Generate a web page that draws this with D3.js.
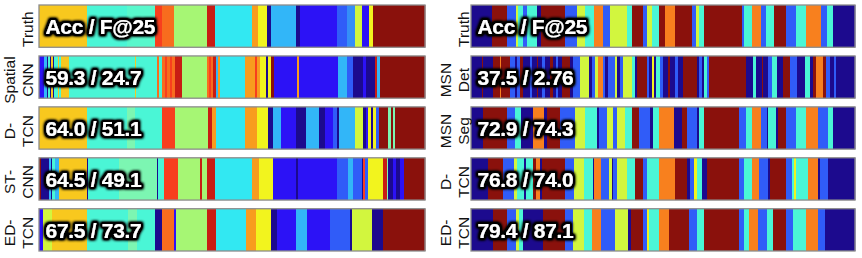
<!DOCTYPE html>
<html><head><meta charset="utf-8">
<script src="https://cdn.jsdelivr.net/npm/d3@7/dist/d3.min.js"></script>
<style>body{margin:0;background:#fff}svg{display:block}</style>
</head><body>
<script>
// ---------- DATA ----------
const leftLabels = [["Truth"], ["Spatial", "CNN"], ["D-", "TCN"], ["ST-", "CNN"], ["ED-", "TCN"]];
const leftScores = ["Acc / F@25", "59.3 / 24.7", "64.0 / 51.1", "64.5 / 49.1", "67.5 / 73.7"];
const rightLabels = [["Truth"], ["MSN", "Det"], ["MSN", "Seg"], ["D-", "TCN"], ["ED-", "TCN"]];
const rightScores = ["Acc / F@25", "37.5 / 2.76", "72.9 / 74.3", "76.8 / 74.0", "79.4 / 87.1"];
const leftFrames = 386;
const rightFrames = 384;

// segments: [end frame, class]
const leftTruth = [[48,'k'],[88,'a'],[116,'q'],[123,'e'],[135,'r'],[168,'g'],[176,'d'],[213,'c'],[219,'o'],[228,'w'],[232,'n'],[257,'l'],[261,'n'],[298,'b'],[308,'m'],[316,'h'],[323,'y'],[330,'b'],[334,'w'],[386,'x']];
const leftSpatialCNN = [[5,'b'],[8,'l'],[9,'n'],[11,'a'],[12,'n'],[14,'k'],[15,'n'],[19,'a'],[20,'k'],[22,'a'],[30,'k'],[96,'a'],[97,'k'],[118,'a'],[120,'r'],[123,'a'],[126,'r'],[128,'e'],[131,'r'],[133,'e'],[136,'r'],[143,'d'],[168,'g'],[170,'r'],[172,'e'],[174,'r'],[177,'d'],[179,'l'],[181,'o'],[206,'c'],[216,'o'],[218,'e'],[221,'o'],[227,'w'],[229,'n'],[232,'w'],[235,'x'],[258,'b'],[260,'o'],[299,'b'],[308,'l'],[314,'m'],[324,'n'],[327,'b'],[336,'n'],[338,'d'],[341,'l'],[386,'x']];
const leftDTCN = [[48,'k'],[88,'a'],[96,'p'],[123,'a'],[136,'e'],[169,'g'],[173,'d'],[177,'o'],[206,'c'],[218,'o'],[229,'w'],[234,'n'],[242,'l'],[257,'b'],[267,'n'],[280,'l'],[286,'n'],[294,'b'],[298,'m'],[300,'n'],[316,'l'],[324,'y'],[327,'n'],[329,'b'],[332,'w'],[334,'n'],[337,'w'],[340,'m'],[349,'x'],[352,'p'],[354,'x'],[356,'p'],[386,'x']];
const leftSTCNN = [[2,'x'],[10,'n'],[12,'l'],[13,'n'],[16,'a'],[20,'l'],[48,'k'],[49,'n'],[80,'a'],[118,'p'],[119,'n'],[125,'a'],[139,'e'],[161,'g'],[163,'d'],[168,'g'],[176,'d'],[213,'c'],[220,'o'],[234,'w'],[257,'b'],[259,'n'],[298,'b'],[309,'m'],[314,'l'],[323,'m'],[324,'n'],[326,'e'],[329,'m'],[344,'w'],[348,'d'],[349,'p'],[354,'n'],[357,'b'],[361,'n'],[365,'b'],[386,'x']];
const leftEDTCN = [[4,'b'],[13,'y'],[48,'k'],[89,'a'],[98,'p'],[116,'a'],[123,'n'],[135,'r'],[137,'b'],[168,'g'],[177,'d'],[207,'c'],[217,'o'],[232,'w'],[238,'n'],[257,'b'],[268,'l'],[291,'b'],[311,'m'],[313,'n'],[333,'y'],[344,'n'],[386,'x']];

const rightTruth = [[21,'n'],[36,'x'],[45,'m'],[47,'y'],[52,'a'],[56,'m'],[66,'a'],[70,'n'],[94,'x'],[106,'m'],[114,'y'],[123,'a'],[132,'f'],[139,'m'],[156,'y'],[161,'a'],[172,'x'],[176,'m'],[181,'y'],[188,'a'],[194,'x'],[204,'f'],[221,'x'],[225,'m'],[228,'y'],[233,'a'],[271,'x'],[273,'m'],[281,'a'],[290,'f'],[295,'m'],[303,'a'],[315,'x'],[325,'m'],[335,'a'],[350,'f'],[356,'m'],[362,'a'],[384,'n']];
const rightMSNDet = [[11,'n'],[12,'x'],[22,'n'],[29,'x'],[30,'f'],[39,'x'],[44,'m'],[46,'n'],[49,'m'],[52,'x'],[59,'n'],[61,'m'],[66,'n'],[67,'x'],[71,'n'],[74,'m'],[79,'n'],[82,'x'],[85,'n'],[87,'m'],[91,'n'],[99,'x'],[102,'n'],[109,'m'],[118,'y'],[121,'n'],[124,'m'],[127,'y'],[132,'f'],[134,'m'],[137,'n'],[144,'m'],[146,'y'],[149,'n'],[152,'m'],[161,'y'],[164,'a'],[166,'n'],[176,'x'],[178,'m'],[181,'n'],[183,'w'],[185,'n'],[189,'a'],[192,'m'],[197,'n'],[199,'x'],[204,'n'],[207,'m'],[212,'n'],[226,'x'],[228,'n'],[231,'m'],[233,'n'],[236,'a'],[238,'m'],[275,'x'],[282,'n'],[285,'a'],[291,'n'],[292,'x'],[297,'n'],[301,'m'],[306,'a'],[312,'n'],[319,'x'],[326,'m'],[334,'n'],[339,'a'],[342,'n'],[345,'x'],[352,'f'],[355,'x'],[359,'m'],[363,'n'],[365,'m'],[384,'n']];
const rightMSNSeg = [[12,'n'],[36,'x'],[44,'m'],[50,'a'],[62,'n'],[73,'f'],[76,'n'],[89,'x'],[104,'m'],[114,'y'],[126,'a'],[128,'n'],[136,'m'],[142,'y'],[146,'m'],[154,'y'],[161,'a'],[168,'x'],[179,'m'],[182,'n'],[188,'a'],[203,'f'],[211,'n'],[216,'x'],[226,'m'],[228,'n'],[233,'a'],[268,'x'],[275,'m'],[281,'a'],[290,'f'],[296,'m'],[297,'n'],[305,'a'],[307,'n'],[315,'x'],[325,'m'],[335,'a'],[347,'f'],[357,'m'],[362,'a'],[384,'n']];
const rightDTCN = [[17,'n'],[32,'x'],[43,'m'],[46,'y'],[53,'a'],[55,'n'],[62,'a'],[65,'x'],[69,'f'],[71,'n'],[94,'x'],[103,'m'],[113,'y'],[122,'a'],[123,'n'],[130,'f'],[138,'m'],[141,'y'],[142,'n'],[146,'m'],[156,'y'],[164,'a'],[172,'x'],[176,'m'],[188,'a'],[204,'f'],[216,'x'],[219,'n'],[223,'m'],[226,'w'],[231,'a'],[236,'n'],[268,'x'],[273,'m'],[281,'a'],[288,'f'],[297,'m'],[299,'n'],[315,'x'],[321,'m'],[323,'a'],[325,'w'],[337,'a'],[347,'f'],[349,'n'],[357,'m'],[384,'n']];
const rightEDTCN = [[22,'n'],[36,'x'],[45,'m'],[48,'y'],[52,'a'],[72,'n'],[94,'x'],[102,'m'],[113,'y'],[121,'a'],[130,'f'],[144,'m'],[157,'y'],[160,'n'],[172,'x'],[176,'m'],[178,'w'],[188,'a'],[198,'f'],[218,'x'],[226,'m'],[233,'a'],[268,'x'],[273,'m'],[278,'a'],[287,'f'],[296,'m'],[302,'a'],[315,'x'],[322,'m'],[335,'a'],[347,'f'],[354,'m'],[384,'n']];

// ---------- STYLE ----------
const classColor = {
  n:'#1c0a8e', b:'#2c12f6', m:'#305cf8', h:'#348ef8', l:'#32b6f8', c:'#32e8f2',
  a:'#4af6d6', q:'#58f8cc', p:'#7cf6b2', g:'#a6f674', y:'#d2f63e', w:'#f2f41e',
  k:'#f8c81e', o:'#f89c1e', f:'#f8801e', r:'#f86c1e', e:'#f83e1e', d:'#c81c14', x:'#8a110c'
};

const W = 862, H = 258;
const svg = d3.select("body").append("svg").attr("width", W).attr("height", H);

const defs = svg.append("defs");
const flt = defs.append("filter").attr("id", "glow").attr("x", "-20%").attr("y", "-40%").attr("width", "140%").attr("height", "180%");
flt.append("feMorphology").attr("in", "SourceAlpha").attr("operator", "dilate").attr("radius", 1.8).attr("result", "dil");
flt.append("feGaussianBlur").attr("in", "dil").attr("stdDeviation", 1.6).attr("result", "blur");
flt.append("feComponentTransfer").attr("in", "blur").attr("result", "blur2")
  .append("feFuncA").attr("type", "linear").attr("slope", 1.8);
const fm = flt.append("feMerge");
fm.append("feMergeNode").attr("in", "blur2");
fm.append("feMergeNode").attr("in", "SourceGraphic");

const rowY = d3.scaleBand().domain(d3.range(5)).range([5, 251]).paddingInner(0.17).paddingOuter(0);

const panels = [
  {labels: leftLabels, scores: leftScores, frames: leftFrames, range: [39, 425], labelX: [15, 33],
   strips: [leftTruth, leftSpatialCNN, leftDTCN, leftSTCNN, leftEDTCN]},
  {labels: rightLabels, scores: rightScores, frames: rightFrames, range: [471, 855], labelX: [451, 469],
   strips: [rightTruth, rightMSNDet, rightMSNSeg, rightDTCN, rightEDTCN]}
];

panels.forEach(P => {
  const x = d3.scaleLinear().domain([0, P.frames]).range(P.range);
  P.strips.forEach((segs, i) => {
    const y0 = rowY(i), bh = rowY.bandwidth();
    const g = svg.append("g");
    const data = segs.map((s, j) => ({start: j ? segs[j-1][0] : 0, end: s[0], cls: s[1]}));
    g.selectAll("rect.seg").data(data).enter().append("rect")
      .attr("x", d => x(d.start))
      .attr("y", y0)
      .attr("width", d => x(d.end) - x(d.start) + 0.4)
      .attr("height", bh)
      .attr("fill", d => classColor[d.cls]);
    g.append("rect").attr("x", P.range[0]).attr("y", y0)
      .attr("width", P.range[1] - P.range[0]).attr("height", bh)
      .attr("fill", "none").attr("stroke", "#8c8c8c").attr("stroke-width", 1.3);
    // score text
    g.append("text")
      .attr("x", P.range[0] + 6.5).attr("y", y0 + bh / 2 + 8)
      .attr("font-family", "'Liberation Sans', Arial, Helvetica, sans-serif")
      .attr("font-weight", "bold").attr("font-size", 21).attr("fill", "#fff")
      .attr("letter-spacing", -0.3)
      .attr("filter", "url(#glow)")
      .text(P.scores[i]);
    // row label
    const lines = P.labels[i];
    const cy = y0 + bh / 2 + 3;
    lines.forEach((t, k) => {
      const lx = lines.length === 1 ? P.labelX[1] : P.labelX[k];
      svg.append("text")
        .attr("transform", `translate(${lx},${cy}) rotate(-90)`)
        .attr("text-anchor", "middle")
        .attr("font-family", "'Liberation Sans', Arial, Helvetica, sans-serif")
        .attr("font-size", 15.5).attr("fill", "#111")
        .text(t);
    });
  });
});
</script>
</body></html>
